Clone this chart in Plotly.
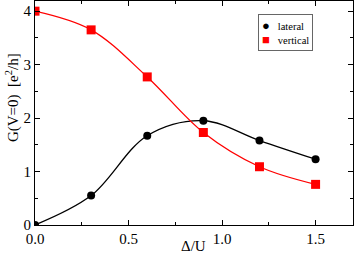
import plotly.graph_objects as go

delta_u = [0.0, 0.3, 0.6, 0.9, 1.2, 1.5]
lateral = [0.0, 0.55, 1.67, 1.95, 1.58, 1.23]
vertical = [4.0, 3.65, 2.77, 1.73, 1.09, 0.76]
series_names = ["lateral", "vertical"]

fig = go.Figure()
fig.add_trace(go.Scatter(x=delta_u, y=lateral, mode="lines", showlegend=False,
                         line=dict(color="black", width=1.3, shape="spline", smoothing=1.0)))
fig.add_trace(go.Scatter(x=delta_u, y=vertical, mode="lines", showlegend=False,
                         line=dict(color="red", width=1.3, shape="spline", smoothing=1.0)))
fig.add_trace(go.Scatter(x=delta_u, y=lateral, mode="markers", name=series_names[0], showlegend=False,
                         marker=dict(symbol="circle", size=8, color="black")))
fig.add_trace(go.Scatter(x=delta_u, y=vertical, mode="markers", name=series_names[1], showlegend=False,
                         marker=dict(symbol="square", size=9, color="red")))

font = "Liberation Serif"
axis_common = dict(showline=True, linecolor="black", linewidth=1.2, mirror="allticks",
                   ticks="inside", ticklen=5, tickcolor="black", tickwidth=1,
                   showgrid=False, zeroline=False,
                   tickfont=dict(family=font, size=15, color="black"))

fig.update_xaxes(range=[0, 1.7], dtick=0.5, tickformat=".1f",
                 minor=dict(ticks="inside", ticklen=3, dtick=0.25, tickcolor="black"),
                 **axis_common)
fig.update_yaxes(range=[0, 4.19], dtick=1,
                 minor=dict(ticks="inside", ticklen=3, dtick=0.5, tickcolor="black"),
                 **axis_common)

# axis titles
fig.add_annotation(text="G(V=0)  [e<sup>2</sup>/h]", xref="paper", yref="paper",
                   x=-0.069, y=0.567, xanchor="center", yanchor="middle", textangle=-90,
                   showarrow=False, font=dict(family=font, size=15, color="black"))
fig.add_annotation(text="Δ/U", xref="paper", yref="paper",
                   x=0.498, y=-0.094, xanchor="center", yanchor="middle",
                   showarrow=False, font=dict(family=font, size=15, color="black"))

# legend box
legend_text = ("<span style='color:black;font-size:13px'>●</span>   " + series_names[0] + "<br>"
               "<span style='color:red;font-size:13px'>■</span>   " + series_names[1])
fig.add_annotation(text=legend_text, xref="paper", yref="paper",
                   x=0.701, y=0.861, xanchor="left", yanchor="middle", align="left",
                   showarrow=False, bgcolor="white", bordercolor="#666", borderwidth=1, borderpad=3,
                   font=dict(family=font, size=10.5, color="black"))

fig.update_layout(width=354, height=256, margin=dict(l=35, r=1, t=1, b=31),
                  paper_bgcolor="white", plot_bgcolor="white", showlegend=False,
                  font=dict(family=font))

fig.write_html("out.html", config={"displayModeBar": False},
               post_script="document.body.style.margin='0';")
